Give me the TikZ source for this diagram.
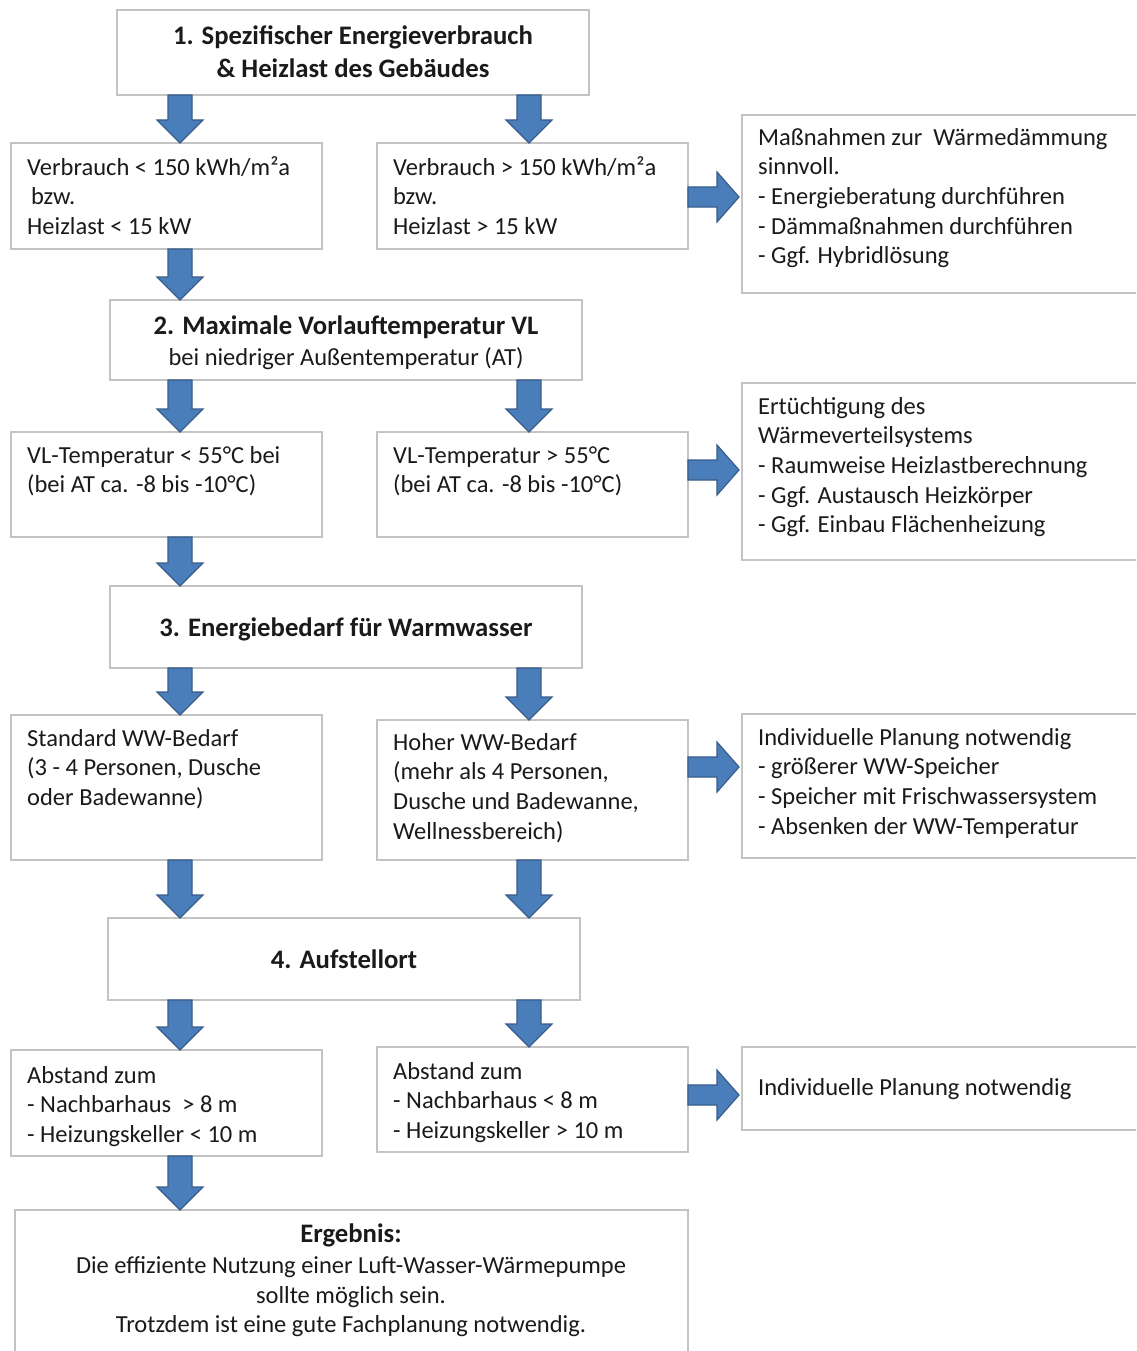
\documentclass[tikz,border=0pt]{standalone}
\usepackage{fontspec}
\setmainfont{Carlito}
\usetikzlibrary{calc}
\definecolor{arrowfill}{HTML}{4A7EBB}
\definecolor{arrowline}{HTML}{385D8A}
\definecolor{boxline}{HTML}{C3C3C3}
\definecolor{textc}{HTML}{1A1A1A}
\newcommand\fsn{\fontsize{24.5}{29.7}\selectfont}
\newcommand\bsz{\fontsize{26.7}{29.7}\selectfont\bfseries}
\begin{document}
\begin{tikzpicture}[x=1pt,y=-1pt,
  box/.style={draw=boxline, line width=1.5pt, fill=white, rectangle, anchor=north west, inner sep=0pt, outer sep=0pt},
  txt/.style={anchor=north west, inner sep=0pt, align=left, font=\fsn, text=textc},
  ctxt/.style={anchor=north, inner sep=0pt, align=center, text=textc},
  darr/.style={draw=arrowline, fill=arrowfill, line width=1.2pt, line join=miter,
    to path={let \p1=(\tikztostart), \p2=(\tikztotarget) in
      (\x1-12pt,\y1) -- (\x1+12pt,\y1) -- (\x1+12pt,\y2+23pt) -- (\x1+23pt,\y2+23pt) -- (\x1,\y2)
      -- (\x1-23pt,\y2+23pt) -- (\x1-12pt,\y2+23pt) -- cycle}},
  rarr/.style={draw=arrowline, fill=arrowfill, line width=1.2pt, line join=miter,
    to path={let \p1=(\tikztostart), \p2=(\tikztotarget) in
      (\x1,\y1+10pt) -- (\x2-22pt,\y1+10pt) -- (\x2-22pt,\y1+25pt) -- (\x2,\y1)
      -- (\x2-22pt,\y1-25pt) -- (\x2-22pt,\y1-10pt) -- (\x1,\y1-10pt) -- cycle}}]
\useasboundingbox (0,0) rectangle (1136,1351);
\clip (0,0) rectangle (1136,1351);
\fill[white] (0,0) rectangle (1136,1351);

% boxes
\node[box, minimum width=472pt, minimum height=85pt]  (s1) at (117,10) {};
\node[box, minimum width=311pt, minimum height=106pt] (a1) at (11,143) {};
\node[box, minimum width=311pt, minimum height=106pt] (a2) at (377,143) {};
\node[box, minimum width=404pt, minimum height=178pt] (a3) at (742,115) {};
\node[box, minimum width=472pt, minimum height=80pt]  (s2) at (110,300) {};
\node[box, minimum width=311pt, minimum height=105pt] (b1) at (11,432) {};
\node[box, minimum width=311pt, minimum height=105pt] (b2) at (377,432) {};
\node[box, minimum width=404pt, minimum height=177pt] (b3) at (742,383) {};
\node[box, minimum width=472pt, minimum height=82pt]  (s3) at (110,586) {};
\node[box, minimum width=311pt, minimum height=145pt] (c1) at (11,715) {};
\node[box, minimum width=311pt, minimum height=140pt] (c2) at (377,720) {};
\node[box, minimum width=404pt, minimum height=144pt] (c3) at (742,714) {};
\node[box, minimum width=472pt, minimum height=82pt]  (s4) at (108,918) {};
\node[box, minimum width=311pt, minimum height=106pt] (d1) at (11,1050) {};
\node[box, minimum width=311pt, minimum height=105pt] (d2) at (377,1047) {};
\node[box, minimum width=404pt, minimum height=83pt]  (d3) at (742,1047) {};
\node[box, minimum width=673pt, minimum height=160pt] (e)  at (15,1210) {};

% helper coordinates
\coordinate (colL) at (180,0);
\coordinate (colR) at (529,0);
\coordinate (rA) at (0,197);
\coordinate (rB) at (0,470);
\coordinate (rC) at (0,767);
\coordinate (rD) at (0,1095);

% down arrows
\path[darr] (s1.south -| colL) to (a1.north -| colL);
\path[darr] (s1.south -| colR) to (a2.north -| colR);
\path[darr] (a1.south -| colL) to (s2.north -| colL);
\path[darr] (s2.south -| colL) to (b1.north -| colL);
\path[darr] (s2.south -| colR) to (b2.north -| colR);
\path[darr] (b1.south -| colL) to (s3.north -| colL);
\path[darr] (s3.south -| colL) to (c1.north -| colL);
\path[darr] (s3.south -| colR) to (c2.north -| colR);
\path[darr] (c1.south -| colL) to (s4.north -| colL);
\path[darr] (c2.south -| colR) to (s4.north -| colR);
\path[darr] (s4.south -| colL) to (d1.north -| colL);
\path[darr] (s4.south -| colR) to (d2.north -| colR);
\path[darr] (d1.south -| colL) to (e.north -| colL);

% right arrows
\path[rarr] (a2.east |- rA) to ($(a3.west |- rA)+(-3,0)$);
\path[rarr] (b2.east |- rB) to ($(b3.west |- rB)+(-3,0)$);
\path[rarr] (c2.east |- rC) to ($(c3.west |- rC)+(-3,0)$);
\path[rarr] (d2.east |- rD) to ($(d3.west |- rD)+(-3,0)$);

% texts
\node[ctxt, font={\fontsize{26.7}{33}\selectfont\bfseries}] (ts1) at (353,20.9)
  {\strut 1. Spezifischer Energieverbrauch\\ \& Heizlast des Gebäudes};
\node[txt] (ta1) at (27,154.2) {\strut Verbrauch < 150 kWh/m²a\\\hspace{4pt}bzw.\\Heizlast < 15 kW};
\node[txt] (ta2) at (393,154.2) {\strut Verbrauch > 150 kWh/m²a\\bzw.\\Heizlast > 15 kW};
\node[txt] (ta3) at (758,124.2) {\strut Maßnahmen zur\ \ Wärmedämmung\\sinnvoll.\\- Energieberatung durchführen\\- Dämmaßnahmen durchführen\\- Ggf. Hybridlösung};
\node[ctxt, font={\fontsize{24.5}{31}\selectfont}] (ts2) at (346,312.3)
  {\strut{\bsz 2. Maximale Vorlauftemperatur VL}\\bei niedriger Außentemperatur (AT)};
\node[txt] (tb1) at (27,442.2) {\strut VL-Temperatur < 55°C bei\\(bei AT ca. -8 bis -10°C)};
\node[txt] (tb2) at (393,442.2) {\strut VL-Temperatur > 55°C\\(bei AT ca. -8 bis -10°C)};
\node[txt] (tb3) at (758,393.2) {\strut Ertüchtigung des\\Wärmeverteilsystems\\- Raumweise Heizlastberechnung\\- Ggf. Austausch Heizkörper\\- Ggf. Einbau Flächenheizung};
\node[ctxt, font=\bsz] (ts3) at (346,615.2) {\strut 3. Energiebedarf für Warmwasser};
\node[txt] (tc1) at (27,725.2) {\strut Standard WW-Bedarf\\(3 - 4 Personen, Dusche\\oder Badewanne)};
\node[txt] (tc2) at (393,729.2) {\strut Hoher WW-Bedarf\\(mehr als 4 Personen,\\Dusche und Badewanne,\\Wellnessbereich)};
\node[txt] (tc3) at (758,724.2) {\strut Individuelle Planung notwendig\\- größerer WW-Speicher\\- Speicher mit Frischwassersystem\\- Absenken der WW-Temperatur};
\node[ctxt, font=\bsz] (ts4) at (344,947.2) {\strut 4. Aufstellort};
\node[txt] (td1) at (27,1062.2) {\strut Abstand zum\\- Nachbarhaus\ \ > 8 m\\- Heizungskeller < 10 m};
\node[txt] (td2) at (393,1058.2) {\strut Abstand zum\\- Nachbarhaus < 8 m\\- Heizungskeller > 10 m};
\node[txt] (td3) at (758,1074.2) {\strut Individuelle Planung notwendig};
\node[ctxt, font={\fontsize{24.5}{29.2}\selectfont}] (te) at (351,1221.6)
  {\strut{\bsz Ergebnis:}\\[2.5pt]Die effiziente Nutzung einer Luft-Wasser-Wärmepumpe\\sollte möglich sein.\\Trotzdem ist eine gute Fachplanung notwendig.};
\end{tikzpicture}
\end{document}
